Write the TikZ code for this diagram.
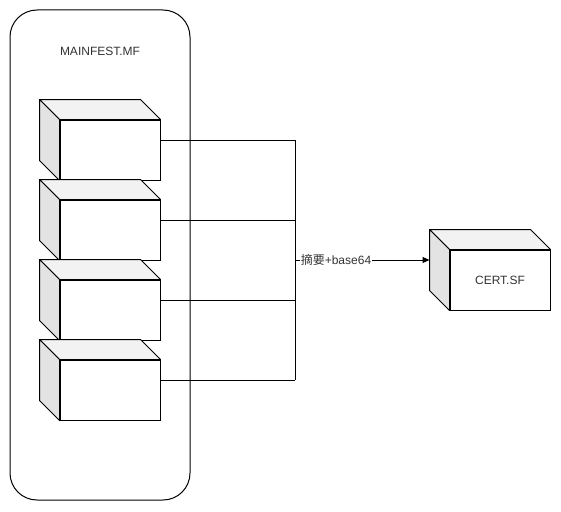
\documentclass[tikz,border=0pt]{standalone}
\usepackage{fontspec}
\setmainfont{Liberation Sans}
\newfontfamily\cjk{Noto Sans CJK SC}
\usetikzlibrary{arrows.meta,calc}
\definecolor{topface}{HTML}{F2F2F2}
\definecolor{sideface}{HTML}{E3E3E3}
\definecolor{ink}{HTML}{333333}
\begin{document}
\begin{tikzpicture}[x=1pt,y=-1pt,line width=1pt,
  lbl/.style={text=ink,font=\fontsize{12}{14}\selectfont,inner sep=1pt},
  front/.style={draw,fill=white,minimum width=100pt,minimum height=60pt,inner sep=0pt,
                text=ink,font=\fontsize{12}{14}\selectfont},
  topf/.style={draw,fill=topface,line join=round},
  sidef/.style={draw,fill=sideface,line join=round},
  wire/.style={draw,line width=1pt},
  arrowline/.style={draw,line width=1pt,-{Triangle[length=7pt,width=6pt]}}]
\useasboundingbox (0,0) rectangle (561,511);

% container for the manifest entries
\node[draw,rounded corners=27pt,minimum width=180pt,minimum height=490pt,inner sep=0pt]
  (mf) at (100,255) {};
\node[lbl] (mftitle) at (100,51) {MAINFEST.MF};

% 3D box: front face is the node, top and left faces are added around it
\newcommand\boxfaces[1]{%
  \path[topf] (#1.north west) -- ($(#1.north west)+(-20,-20)$)
     -- ($(#1.north east)+(-20,-20)$) -- (#1.north east) -- cycle;
  \path[sidef] (#1.north west) -- ($(#1.north west)+(-20,-20)$)
     -- ($(#1.south west)+(-20,-20)$) -- (#1.south west) -- cycle;
}

\node[front] (e1) at (110,150) {};\boxfaces{e1}
\node[front] (e2) at (110,230) {};\boxfaces{e2}
\node[front] (e3) at (110,310) {};\boxfaces{e3}
\node[front] (e4) at (110,390) {};\boxfaces{e4}

\node[front] (cert) at (500,280) {CERT.SF};\boxfaces{cert}

% collecting bus
\coordinate (b1) at (295,140);
\coordinate (b2) at (295,220);
\coordinate (b3) at (295,300);
\coordinate (b4) at (295,380);
\coordinate (bm) at (295,260);
\coordinate (certin) at ($(cert.west)+(-20,-20)$);

\path[wire] ($(e1.east)+(0,-10)$) -- (b1);
\path[wire] ($(e2.east)+(0,-10)$) -- (b2);
\path[wire] ($(e3.east)+(0,-10)$) -- (b3);
\path[wire] ($(e4.east)+(0,-10)$) -- (b4);
\path[wire] (b1) -- (b4);
\path[arrowline] (bm) -- (certin);
\node[lbl,fill=white] (digest) at (336,260) {{\cjk 摘要}+base64};
\end{tikzpicture}
\end{document}
